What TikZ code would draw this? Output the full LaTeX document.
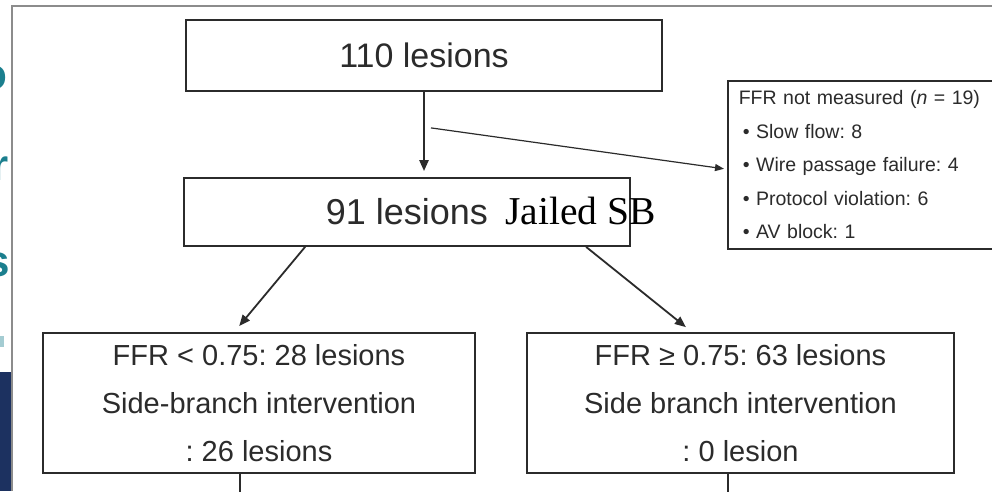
\documentclass[tikz,border=0pt]{standalone}
\usepackage{fontspec}
\setmainfont{Liberation Sans}
\newfontfamily\serifjail{Liberation Serif}
\usetikzlibrary{arrows.meta,calc}
\definecolor{ink}{HTML}{2B2B2B}
\definecolor{framegray}{HTML}{8C8C8C}
\definecolor{slideteal}{HTML}{1B7F8E}
\definecolor{slidenavy}{HTML}{1C3160}
\frenchspacing
\begin{document}
\begin{tikzpicture}[x=1pt,y=-1pt,
  box/.style={draw=ink, line width=1.8pt, rectangle, inner sep=0pt, text=ink},
  arr/.style={draw=ink, line width=2.4pt, -{Triangle[length=11pt,width=9pt]}},
  thinarr/.style={draw=ink, line width=1.2pt, -{Triangle[length=9pt,width=7pt]}},
  slideletter/.style={anchor=east, inner sep=0pt, text=slideteal, font=\bfseries\fontsize{44}{44}\selectfont},
]
\useasboundingbox (0,0) rectangle (992,491);
\fill[white] (0,0) rectangle (992,491);

% left strip of the slide behind
\begin{scope}
  \clip (0,0) rectangle (11,491);
  \node[slideletter] (la) at (8,78) {o};
  \node[slideletter] (lb) at (9,169) {r};
  \node[slideletter] (lc) at (10,265) {s};
  \fill[slideteal!40] (0,336) rectangle (4,347);
  \fill[slidenavy] (0,372) rectangle (11,491);
\end{scope}
\draw[framegray, line width=1.5pt] (12,491) -- (12,6) -- (992,6);

% boxes
\node[box, minimum width=476pt, minimum height=71pt, font=\fontsize{34}{40}\selectfont] (top) at (424,55.5) {110 lesions};
\node[box, minimum width=446pt, minimum height=68pt, font=\fontsize{36}{40}\selectfont] (mid) at (407,212) {91 lesions};
\node[anchor=base west, inner sep=0pt, text=black, font=\serifjail\fontsize{39.5}{40}\selectfont] (jsb) at ($(mid.base)+(98,0)$) {Jailed SB};
\node[box, line width=1.6pt, anchor=north west, minimum width=262pt, minimum height=168pt, inner xsep=11pt, text width=244pt, align=left, font=\fontsize{19.5}{33.5}\selectfont] (nm) at (727,80)
  {FFR not measured (\textit{n} = 19)\\
   \hspace*{4pt}• Slow flow: 8\\
   \hspace*{4pt}• Wire passage failure: 4\\
   \hspace*{4pt}• Protocol violation: 6\\
   \hspace*{4pt}• AV block: 1};
\node[box, minimum width=432pt, minimum height=140pt, align=center, font=\fontsize{29}{48}\selectfont] (lo) at (259,403)
  {FFR < 0.75: 28 lesions\\ Side-branch intervention\\ : 26 lesions};
\node[box, minimum width=427pt, minimum height=140pt, align=center, font=\fontsize{29}{48}\selectfont] (hi) at (740.5,403)
  {FFR ≥ 0.75: 63 lesions\\ Side branch intervention\\ : 0 lesion};

% connectors
\draw[arr, shorten >=6pt] (top.south) -- (top.south |- mid.north);
\coordinate (br) at ($(top.south)+(7,36)$);
\draw[thinarr] (br) -- ([yshift=-4pt, xshift=-3pt]nm.west);
\draw[arr, line width=1.8pt, shorten >=8pt] ($(mid.south west)+(122,0)$) -- ($(lo.north west)+(192,0)$);
\draw[arr, line width=1.8pt, shorten >=8pt] ($(mid.south west)+(403,0)$) -- ($(hi.north west)+(166,0)$);
\coordinate (loend) at ($(lo.south west)+(198,20)$);
\coordinate (hiend) at ($(hi.south west)+(202,20)$);
\draw[ink, line width=2.4pt] ($(lo.south west)+(198,0)$) -- (loend);
\draw[ink, line width=2.4pt] ($(hi.south west)+(202,0)$) -- (hiend);
\end{tikzpicture}
\end{document}
